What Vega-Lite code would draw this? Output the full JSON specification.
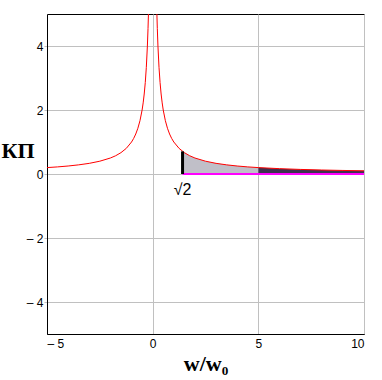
{
  "$schema": "https://vega.github.io/schema/vega-lite/v6.json",
  "width": 317,
  "height": 320,
  "autosize": "none",
  "padding": {"left": 47, "top": 14, "right": 18, "bottom": 46},
  "background": "white",
  "config": {
    "view": {"stroke": "black", "strokeWidth": 1},
    "axis": {"gridColor": "#c0c0c0", "gridOpacity": 1, "gridWidth": 1, "domainColor": "black", "labelColor": "black", "labelFont": "Liberation Sans", "labelFontSize": 12}
  },
  "datasets": {
    "curve": [
      {"x": -5, "y": 0.2, "b": "L"}, {"x": -4.5, "y": 0.222, "b": "L"}, {"x": -4, "y": 0.25, "b": "L"}, {"x": -3.5, "y": 0.286, "b": "L"}, {"x": -3, "y": 0.333, "b": "L"}, {"x": -2.5, "y": 0.4, "b": "L"}, {"x": -2, "y": 0.5, "b": "L"}, {"x": -1.75, "y": 0.571, "b": "L"}, {"x": -1.5, "y": 0.667, "b": "L"}, {"x": -1.25, "y": 0.8, "b": "L"}, {"x": -1, "y": 1, "b": "L"}, {"x": -0.9, "y": 1.111, "b": "L"}, {"x": -0.8, "y": 1.25, "b": "L"}, {"x": -0.7, "y": 1.429, "b": "L"}, {"x": -0.6, "y": 1.667, "b": "L"}, {"x": -0.5, "y": 2, "b": "L"}, {"x": -0.45, "y": 2.222, "b": "L"}, {"x": -0.4, "y": 2.5, "b": "L"}, {"x": -0.35, "y": 2.857, "b": "L"}, {"x": -0.3, "y": 3.333, "b": "L"}, {"x": -0.25, "y": 4, "b": "L"}, {"x": -0.22, "y": 4.545, "b": "L"}, {"x": -0.2, "y": 5, "b": "L"}, {"x": -0.18, "y": 5.556, "b": "L"},
      {"x": 0.18, "y": 5.556, "b": "R"}, {"x": 0.2, "y": 5, "b": "R"}, {"x": 0.22, "y": 4.545, "b": "R"}, {"x": 0.25, "y": 4, "b": "R"}, {"x": 0.3, "y": 3.333, "b": "R"}, {"x": 0.35, "y": 2.857, "b": "R"}, {"x": 0.4, "y": 2.5, "b": "R"}, {"x": 0.45, "y": 2.222, "b": "R"}, {"x": 0.5, "y": 2, "b": "R"}, {"x": 0.6, "y": 1.667, "b": "R"}, {"x": 0.7, "y": 1.429, "b": "R"}, {"x": 0.8, "y": 1.25, "b": "R"}, {"x": 0.9, "y": 1.111, "b": "R"}, {"x": 1, "y": 1, "b": "R"}, {"x": 1.25, "y": 0.8, "b": "R"}, {"x": 1.5, "y": 0.667, "b": "R"}, {"x": 1.75, "y": 0.571, "b": "R"}, {"x": 2, "y": 0.5, "b": "R"}, {"x": 2.5, "y": 0.4, "b": "R"}, {"x": 3, "y": 0.333, "b": "R"}, {"x": 3.5, "y": 0.286, "b": "R"}, {"x": 4, "y": 0.25, "b": "R"}, {"x": 4.5, "y": 0.222, "b": "R"}, {"x": 5, "y": 0.2, "b": "R"}, {"x": 6, "y": 0.167, "b": "R"}, {"x": 7, "y": 0.143, "b": "R"}, {"x": 8, "y": 0.125, "b": "R"}, {"x": 9, "y": 0.111, "b": "R"}, {"x": 10, "y": 0.1, "b": "R"}
    ],
    "area": [
      {"x": 1.414, "y": 0.707, "p": "light"}, {"x": 1.5, "y": 0.667, "p": "light"}, {"x": 1.75, "y": 0.571, "p": "light"}, {"x": 2, "y": 0.5, "p": "light"}, {"x": 2.5, "y": 0.4, "p": "light"}, {"x": 3, "y": 0.333, "p": "light"}, {"x": 3.5, "y": 0.286, "p": "light"}, {"x": 4, "y": 0.25, "p": "light"}, {"x": 4.5, "y": 0.222, "p": "light"}, {"x": 5, "y": 0.2, "p": "light"},
      {"x": 5, "y": 0.2, "p": "dark"}, {"x": 6, "y": 0.167, "p": "dark"}, {"x": 7, "y": 0.143, "p": "dark"}, {"x": 8, "y": 0.125, "p": "dark"}, {"x": 9, "y": 0.111, "p": "dark"}, {"x": 10, "y": 0.1, "p": "dark"}
    ],
    "base": [{"x": 1.414, "y": 0}, {"x": 10, "y": 0}],
    "vert": [{"x": 1.414, "y0": 0, "y1": 0.707}],
    "lab": [{"x": 1.414, "y": -0.5, "t": "√2"}]
  },
  "layer": [
    {
      "data": {"name": "area"},
      "mark": {"type": "area", "clip": true},
      "encoding": {
        "x": {"field": "x", "type": "quantitative", "scale": {"domain": [-5, 10], "nice": false, "zero": false},
          "axis": {"values": [-5, 0, 5, 10], "ticks": false, "labelPadding": 4, "labelExpr": "datum.value < 0 ? '\u2013 ' + abs(datum.value) : datum.label",
            "title": "w/w\u2080", "titleFont": "Liberation Serif", "titleFontSize": 22, "titleFontWeight": "bold", "titleColor": "black", "titlePadding": 4}},
        "y": {"field": "y", "type": "quantitative", "stack": null, "scale": {"domain": [-5, 5], "nice": false},
          "axis": {"values": [-4, -2, 0, 2, 4], "tickSize": 3, "tickColor": "#c0c0c0", "labelPadding": 1, "labelExpr": "datum.value < 0 ? '\u2013 ' + abs(datum.value) : datum.label",
            "title": "КП", "titleFont": "Liberation Serif", "titleFontSize": 22, "titleFontWeight": "bold", "titleColor": "black", "titleAngle": 0, "titleAlign": "left", "titleBaseline": "middle", "titleX": -46, "titleY": 136}},
        "color": {"field": "p", "type": "nominal", "scale": {"domain": ["light", "dark"], "range": ["#c0bfc8", "#3e3250"]}, "legend": null}
      }
    },
    {
      "data": {"name": "base"},
      "mark": {"type": "line", "color": "#ff00ff", "strokeWidth": 2},
      "encoding": {"x": {"field": "x", "type": "quantitative"}, "y": {"field": "y", "type": "quantitative"}}
    },
    {
      "data": {"name": "curve"},
      "mark": {"type": "line", "color": "#ff0000", "strokeWidth": 1, "clip": true},
      "encoding": {"x": {"field": "x", "type": "quantitative"}, "y": {"field": "y", "type": "quantitative"}, "detail": {"field": "b"}}
    },
    {
      "data": {"name": "vert"},
      "mark": {"type": "rule", "color": "black", "strokeWidth": 3},
      "encoding": {"x": {"field": "x", "type": "quantitative"}, "y": {"field": "y0", "type": "quantitative"}, "y2": {"field": "y1"}}
    },
    {
      "data": {"name": "lab"},
      "mark": {"type": "text", "font": "Liberation Sans", "fontSize": 16, "color": "black", "baseline": "middle", "align": "center", "dx": 0},
      "encoding": {"x": {"field": "x", "type": "quantitative"}, "y": {"field": "y", "type": "quantitative"}, "text": {"field": "t"}}
    }
  ]
}
